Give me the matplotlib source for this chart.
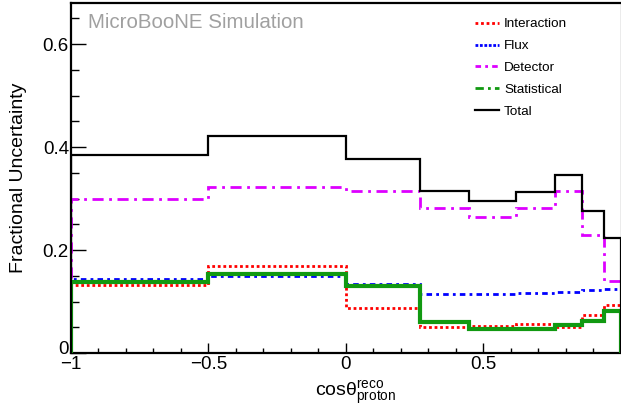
import matplotlib
matplotlib.use("Agg")
import matplotlib.pyplot as plt
import matplotlib.transforms as mtransforms
from matplotlib.lines import Line2D
from matplotlib.ticker import MultipleLocator, FixedLocator

plt.rcParams['font.family'] = ['Liberation Sans', 'DejaVu Sans']
plt.rcParams['mathtext.fontset'] = 'custom'
plt.rcParams['mathtext.rm'] = 'Liberation Sans'
plt.rcParams['mathtext.it'] = 'Liberation Sans:italic'
plt.rcParams['axes.unicode_minus'] = True

bin_edges = [-1.0, -0.5, 0.0, 0.27, 0.45, 0.62, 0.76, 0.86, 0.94, 1.0]
total = [0.385, 0.4225, 0.377, 0.315, 0.296, 0.313, 0.346, 0.276, 0.224]
detector = [0.300, 0.323, 0.315, 0.282, 0.264, 0.281, 0.314, 0.229, 0.140]
flux = [0.144, 0.150, 0.135, 0.114, 0.114, 0.116, 0.119, 0.122, 0.124]
interaction = [0.133, 0.170, 0.087, 0.050, 0.052, 0.056, 0.051, 0.073, 0.094]
statistical = [0.137, 0.153, 0.131, 0.060, 0.046, 0.047, 0.054, 0.062, 0.081]

x_ticks = [-1, -0.5, 0, 0.5, 1]
x_ticklabels = ['\u22121', '\u22120.5', '0', '0.5', '']
y_ticks = [0, 0.2, 0.4, 0.6]
y_ticklabels = ['0', '0.2', '0.4', '0.6']

fig = plt.figure(figsize=(6.21, 4.09), dpi=100)
ax = fig.add_axes([71/621, 1-353/409, 1-71/621-0.5/621, (353-3)/409])

c_int = '#ff0000'
c_flux = '#0000ff'
c_det = '#dd00ff'
c_stat = '#119911'

ax.stairs(interaction, bin_edges, baseline=0, color=c_int, lw=2.0, linestyle=(0, (1, 1)), zorder=3)
ax.stairs(flux, bin_edges, baseline=0, color=c_flux, lw=2.0, linestyle=(0, (2, 1.5, 1, 1.5)), zorder=3)
ax.stairs(detector, bin_edges, baseline=0, color=c_det, lw=2.0, linestyle=(0, (4, 2, 1, 2)), zorder=3)
ax.stairs(statistical, bin_edges, baseline=0, color=c_stat, lw=3.0, zorder=4)
ax.stairs(total, bin_edges, baseline=0, color='black', lw=1.6, zorder=5)

ax.set_xlim(-1, 1)
ax.set_ylim(0, 0.68)

ax.xaxis.set_major_locator(FixedLocator(x_ticks))
ax.set_xticklabels(x_ticklabels)
ax.xaxis.set_minor_locator(MultipleLocator(0.1))
ax.yaxis.set_major_locator(FixedLocator(y_ticks))
ax.set_yticklabels(y_ticklabels)
ax.yaxis.set_minor_locator(MultipleLocator(0.05))

ax.tick_params(axis='both', which='both', direction='in', top=False, right=False,
               labelsize=13.5, width=1.0, color='black')
ax.tick_params(axis='y', which='major', length=10.8, pad=1.5)
ax.tick_params(axis='y', which='minor', length=5.8)
ax.tick_params(axis='x', which='major', length=7.2, pad=2.5)
ax.tick_params(axis='x', which='minor', length=3.8)

# lift the "0" y tick label slightly, as in the reference
zero_lbl = ax.get_yticklabels()[0]
zero_lbl.set_transform(zero_lbl.get_transform() +
                       mtransforms.ScaledTranslation(0, 5/100, fig.dpi_scale_trans))

for s in ['left', 'bottom', 'top']:
    ax.spines[s].set_linewidth(1.6)
    ax.spines[s].set_color('black')
ax.spines['right'].set_color('#999999')
ax.spines['right'].set_linewidth(1.0)

ax.set_ylabel('Fractional Uncertainty', fontsize=14)
ax.yaxis.set_label_coords(-0.080, 0.50)
ax.set_xlabel(r'$\mathrm{cos\theta}^{\mathrm{reco}}_{\mathrm{proton}}$', fontsize=14)
ax.xaxis.set_label_coords(0.518, -0.072)

ax.text(88/621, 1-22.5/409, 'MicroBooNE Simulation', transform=fig.transFigure,
        fontsize=14.8, color='#a0a0a0', va='center', ha='left')

handles = [
    Line2D([], [], color=c_int, lw=2.0, linestyle=(0, (1, 1))),
    Line2D([], [], color=c_flux, lw=2.0, linestyle=(0, (1, 0.6))),
    Line2D([], [], color=c_det, lw=2.0, linestyle=(0, (2, 1.5, 1, 1.5))),
    Line2D([], [], color=c_stat, lw=2.0, linestyle=(0, (3, 1.5, 1, 1.5))),
    Line2D([], [], color='black', lw=1.6),
]
labels = ['Interaction', 'Flux', 'Detector', 'Statistical', 'Total']
leg = fig.legend(handles, labels, loc='upper left', bbox_to_anchor=(475/621, 1-18/409),
                 frameon=False, fontsize=9.7, handlelength=1.8, handletextpad=0.35,
                 labelspacing=0.70, borderaxespad=0, borderpad=0)

fig.savefig('out.png', dpi=100)
